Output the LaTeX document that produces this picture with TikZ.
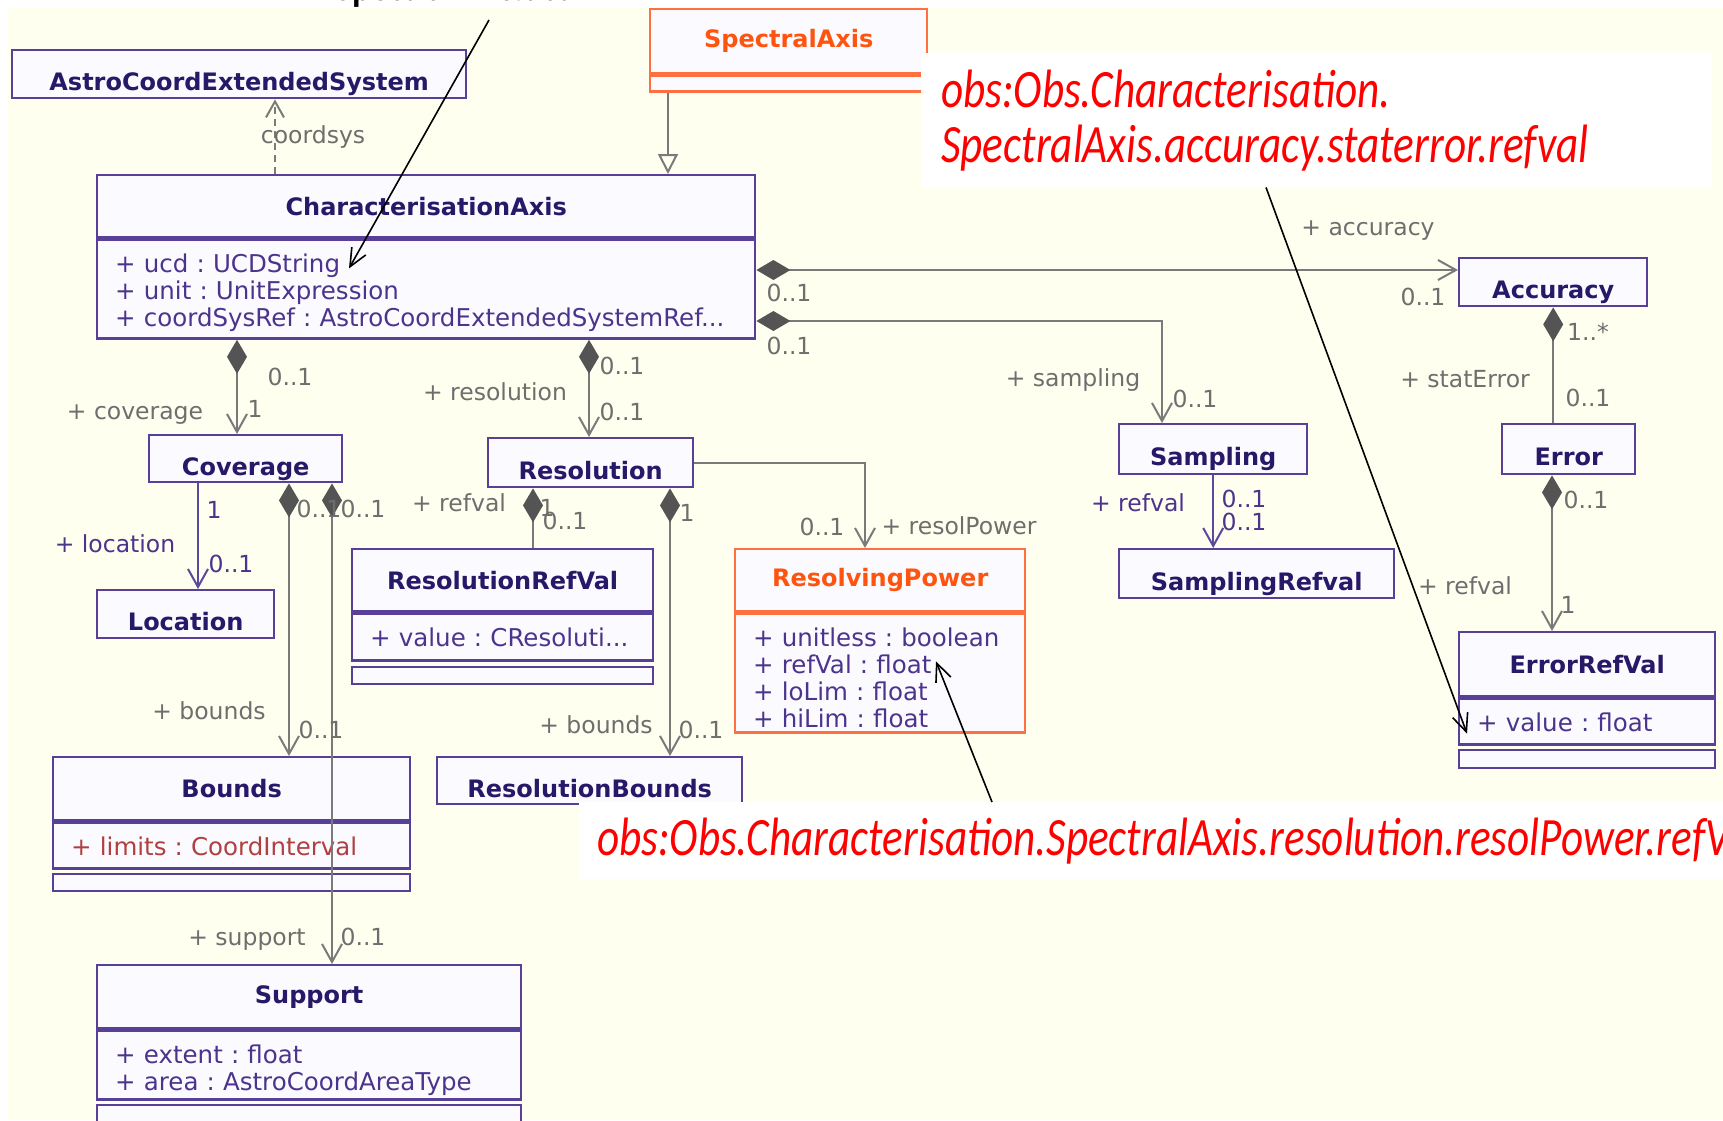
\documentclass[tikz,border=0pt]{standalone}
\usepackage{fontspec}
\setmainfont{DejaVu Sans}
\newfontfamily\notefont{Carlito}[FakeStretch=0.80]
\usetikzlibrary{positioning}
\usetikzlibrary{calc}
\usetikzlibrary{arrows.meta}
\frenchspacing
\definecolor{paper colour}{RGB}{255,255,240}
\definecolor{class fill}{RGB}{250,250,255}
\definecolor{class colour}{RGB}{88,64,152}
\definecolor{name colour}{RGB}{40,24,104}
\definecolor{attr colour}{RGB}{76,52,140}
\definecolor{spec colour}{RGB}{255,112,64}
\definecolor{spec text}{RGB}{255,84,16}
\definecolor{link colour}{RGB}{122,122,122}
\definecolor{link purple}{RGB}{92,72,156}
\definecolor{diamond colour}{RGB}{84,84,84}
\definecolor{label colour}{RGB}{110,110,110}
\definecolor{limit colour}{RGB}{176,64,64}
\definecolor{note colour}{RGB}{255,0,0}
\tikzset{
    >=stealth,
%
    % Class boxes and their compartments
    class/.style={draw=class colour, fill=class fill, line width=2.4pt,
        anchor=north west, inner sep=0, text=name colour,
        font=\fontsize{24}{28}\selectfont\bfseries},
    spec class/.style={class, draw=spec colour, text=spec text},
    name only/.style={text height=33pt, text depth=0pt},
    attrs/.style={draw=class colour, fill=class fill, line width=2.4pt,
        anchor=north west, inner xsep=18pt, inner ysep=0pt, align=left,
        text height=33pt, text=attr colour,
        font=\fontsize{24.5}{27}\selectfont},
    spec attrs/.style={attrs, draw=spec colour},
    ops/.style={draw=class colour, fill=class fill, line width=2.4pt,
        anchor=north west, inner sep=0},
    spec ops/.style={ops, draw=spec colour},
%
    % Next some lines
    link/.style={draw=link colour, line width=2pt},
    assoc/.style={link, -{Straight Barb[length=18pt,width=20pt]}},
    comp/.style={link,
        {Diamond[length=34pt,width=20pt,fill=diamond colour,color=diamond colour]}-{Straight Barb[length=18pt,width=20pt]}},
    comp line/.style={link,
        {Diamond[length=34pt,width=20pt,fill=diamond colour,color=diamond colour]}-},
    generalise/.style={link, -{Triangle[open,length=20pt,width=20pt]}},
    depend/.style={link, dash pattern=on 7pt off 5pt,
        -{Straight Barb[length=16pt,width=18pt]}},
    inner link/.style={draw=link purple},
    pointer/.style={draw=black, line width=1.6pt,
        -{Straight Barb[length=18pt,width=16pt]}},
%
    % Role names and multiplicities
    mult/.style={font=\fontsize{23.5}{27}\selectfont, text=label colour, inner sep=0},
    purple mult/.style={mult, text=attr colour},
    note box/.style={fill=white, anchor=north west, inner xsep=20pt,
        inner ysep=0pt, align=left, text=note colour,
        font=\notefont\itshape\fontsize{54}{55}\selectfont},
}

\begin{document}
\begin{tikzpicture}[x=1pt, y=-1pt]

\fill [white] (0,0) rectangle (1723,1120);
\fill [paper colour] (8,8) rectangle (1723,1120);
\useasboundingbox (0,0) rectangle (1723,1120);

\node [font=\notefont\bfseries\fontsize{44}{50}\selectfont, anchor=base]
    (ucd note) at (456,0) {SpectralAxis.ucd};

% Classes
\node [class, name only, minimum width=454pt, minimum height=48pt]
    (astro) at (11,49) {AstroCoordExtendedSystem};
\node [spec class, minimum width=277pt, minimum height=64pt]
    (spectral) at (649,8) {SpectralAxis};
\node [spec ops, minimum width=277pt, minimum height=16pt]
    (spectral ops) at (spectral.south west) {};

\node [class, minimum width=658pt, minimum height=62pt]
    (charaxis) at (96,174) {CharacterisationAxis};
\node [attrs, text width=622pt, text depth=66pt]
    (charaxis attrs) at (charaxis.south west)
    {+ ucd : UCDString\\+ unit : UnitExpression\\+ coordSysRef : AstroCoordExtendedSystemRef...};

\node [class, name only, minimum width=193pt, minimum height=47pt]
    (coverage) at (148,434) {Coverage};
\node [class, name only, minimum width=177pt, minimum height=48pt]
    (location) at (96,589) {Location};
\node [class, name only, minimum width=205pt, minimum height=49pt]
    (resolution) at (487,437) {Resolution};

\node [class, minimum width=301pt, minimum height=62pt]
    (resrefval) at (351,548) {ResolutionRefVal};
\node [attrs, text width=265pt, text depth=14pt]
    (resrefval attrs) at (resrefval.south west) {+ value : CResoluti...};
\node [ops, minimum width=301pt, minimum height=17pt]
    (resrefval ops) at ([yshift=-4]resrefval attrs.south west) {};

\node [spec class, minimum width=290pt, minimum height=62pt]
    (resolpower) at (734,548) {ResolvingPower};
\node [spec attrs, text width=254pt, text depth=86pt]
    (resolpower attrs) at (resolpower.south west)
    {+ unitless : boolean\\+ refVal : float\\+ loLim : float\\+ hiLim : float};

\node [class, name only, minimum width=188pt, minimum height=50pt]
    (sampling) at (1118,423) {Sampling};
\node [class, name only, minimum width=275pt, minimum height=49pt]
    (samprefval) at (1118,548) {SamplingRefval};
\node [class, name only, minimum width=188pt, minimum height=48pt]
    (accuracy) at (1458,257) {Accuracy};
\node [class, name only, minimum width=133pt, minimum height=50pt]
    (error) at (1501,423) {Error};

\node [class, minimum width=256pt, minimum height=64pt]
    (errrefval) at (1458,631) {ErrorRefVal};
\node [attrs, text width=220pt, text depth=13pt]
    (errrefval attrs) at (errrefval.south west) {+ value : float};
\node [ops, minimum width=256pt, minimum height=18pt]
    (errrefval ops) at ([yshift=-3]errrefval attrs.south west) {};

\node [class, minimum width=357pt, minimum height=63pt]
    (bounds) at (52,756) {Bounds};
\node [attrs, text=limit colour, text width=321pt, text depth=13pt]
    (bounds attrs) at (bounds.south west) {+ limits : CoordInterval};
\node [ops, minimum width=357pt, minimum height=17pt]
    (bounds ops) at ([yshift=-3]bounds attrs.south west) {};

\node [class, name only, minimum width=305pt, minimum height=47pt]
    (resbounds) at (436,756) {ResolutionBounds};

\node [class, minimum width=424pt, minimum height=63pt]
    (support) at (96,964) {Support};
\node [attrs, text width=388pt, text depth=36pt]
    (support attrs) at (support.south west)
    {+ extent : float\\+ area : AstroCoordAreaType};
\node [ops, minimum width=424pt, minimum height=40pt]
    (support ops) at ([yshift=-3]support attrs.south west) {};

% Connectors
\draw [depend] ([xshift=179]charaxis.north west)
    -- ([xshift=179]charaxis.north west |- astro.south);
\draw [generalise] ([xshift=19]spectral ops.south west)
    -- ([xshift=19]spectral ops.south west |- charaxis.north);
\draw [comp] ([yshift=-96]charaxis.north east)
    -- ([yshift=-96]charaxis.north east -| accuracy.west);
\draw [comp] ([yshift=-147]charaxis.north east)
    -| ([xshift=44]sampling.north west);
\draw [comp] ([xshift=141]charaxis attrs.south west)
    -- ([xshift=141]charaxis attrs.south west |- coverage.north);
\draw [comp] ([xshift=493]charaxis attrs.south west)
    -- ([xshift=493]charaxis attrs.south west |- resolution.north);

\draw [assoc, inner link] ([xshift=50]coverage.south west)
    -- ([xshift=50]coverage.south west |- location.north);
\draw [comp] ([xshift=141]coverage.south west)
    -- ([xshift=141]coverage.south west |- bounds.north);
\draw [comp] ([xshift=184]coverage.south west)
    -- ([xshift=184]coverage.south west |- support.north);

\draw [comp line] ([xshift=46]resolution.south west)
    -- ([xshift=46]resolution.south west |- resrefval.north);
\draw [comp] ([xshift=183]resolution.south west)
    -- ([xshift=183]resolution.south west |- resbounds.north);
\draw [assoc] (resolution.east) -| ([xshift=131]resolpower.north west);

\draw [assoc, inner link] (sampling.south) -- (sampling.south |- samprefval.north);
\draw [comp line] (accuracy.south) -- (accuracy.south |- error.north);
\draw [comp] ([xshift=51]error.south west)
    -- ([xshift=51]error.south west |- errrefval.north);

% Role names and multiplicities
\node [mult] (coordsys lbl) at (313,137) {coordsys};
\node [mult] (acc src) at (789,293) {0..1};
\node [mult] (acc role) at (1368,231) {+ accuracy};
\node [mult] (acc dst) at (1423,297) {0..1};
\node [mult] (smp src) at (789,346) {0..1};
\node [mult] (smp role) at (1073,380) {+ sampling};
\node [mult] (smp dst) at (1195,399) {0..1};
\node [mult] (cov src) at (290,377) {0..1};
\node [mult] (cov role) at (135,415) {+ coverage};
\node [mult] (cov dst) at (255,409) {1};
\node [mult] (res src) at (622,366) {0..1};
\node [mult] (res role) at (495,392) {+ resolution};
\node [mult] (res dst) at (622,412) {0..1};
\node [purple mult] (loc src) at (214,510) {1};
\node [purple mult] (loc role) at (115,544) {+ location};
\node [purple mult] (loc dst) at (231,564) {0..1};
\node [mult] (bnd src) at (319,509) {0..1};
\node [mult] (bnd role) at (209,711) {+ bounds};
\node [mult] (bnd dst) at (321,730) {0..1};
\node [mult] (sup src) at (363,509) {0..1};
\node [mult] (sup role) at (247,940) {+ support};
\node [mult] (sup dst) at (363,937) {0..1};
\node [mult] (rrv role) at (459,503) {+ refval};
\node [mult] (rrv src) at (547,508) {1};
\node [mult] (rrv dst) at (565,521) {0..1};
\node [mult] (rbd src) at (687,513) {1};
\node [mult] (rbd role) at (596,725) {+ bounds};
\node [mult] (rbd dst) at (701,730) {0..1};
\node [mult] (rp dst) at (822,527) {0..1};
\node [mult] (rp role) at (959,526) {+ resolPower};
\node [purple mult] (srv role) at (1138,503) {+ refval};
\node [purple mult] (srv src) at (1244,499) {0..1};
\node [purple mult] (srv dst) at (1244,522) {0..1};
\node [mult] (err src) at (1588,332) {1..*};
\node [mult] (err role) at (1465,379) {+ statError};
\node [mult] (err dst) at (1588,398) {0..1};
\node [mult] (erv src) at (1586,500) {0..1};
\node [mult] (erv role) at (1465,586) {+ refval};
\node [mult] (erv dst) at (1568,605) {1};

% Annotations
\node [note box, text width=751pt, minimum height=134pt]
    (staterr note) at (921,53)
    {obs:Obs.Characterisation.\\SpectralAxis.accuracy.staterror.refval};
\node [note box, inner xsep=18pt, text width=1300pt, minimum height=77pt]
    (resol note) at (579,802)
    {obs:Obs.Characterisation.SpectralAxis.resolution.resolPower.refVal};

\draw [pointer] ([xshift=33,yshift=-20]ucd note.base)
    -- ([xshift=253,yshift=-30]charaxis attrs.north west);
\draw [pointer] ([xshift=345]staterr note.south west)
    -- ([xshift=9,yshift=-12]errrefval attrs.west);
\draw [pointer] ([xshift=413]resol note.north west)
    -- ([xshift=202,yshift=-49]resolpower attrs.north west);

\end{tikzpicture}
\end{document}
